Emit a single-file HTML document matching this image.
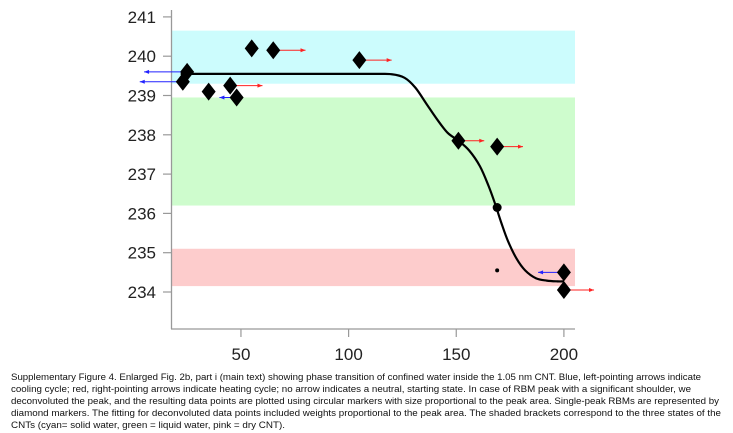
<!DOCTYPE html>
<html><head><meta charset="utf-8"><style>
html,body{margin:0;padding:0;background:#fff;}
svg{display:block;font-family:"Liberation Sans",sans-serif;}
</style></head><body>
<svg id="chart" width="733" height="433" viewBox="0 0 733 433" xmlns="http://www.w3.org/2000/svg">
<g id="bands"></g>
<g id="axes"></g>
<g id="curve"></g>
<g id="arrows"></g>
<g id="marks"></g>
<g font-family="'Liberation Sans Narrow','Liberation Sans',sans-serif" font-size="9" fill="#111">
<text x="11" y="380" textLength="690" lengthAdjust="spacingAndGlyphs">Supplementary Figure 4.  Enlarged Fig. 2b, part i (main text) showing phase transition of confined water inside the 1.05 nm CNT.  Blue, left-pointing arrows indicate</text>
<text x="11" y="392" textLength="680" lengthAdjust="spacingAndGlyphs">cooling cycle; red, right-pointing arrows indicate heating cycle; no arrow indicates a neutral, starting state.  In case of RBM peak with a significant shoulder, we</text>
<text x="11" y="404" textLength="708" lengthAdjust="spacingAndGlyphs">deconvoluted the peak, and the resulting data points are plotted using circular markers with size proportional to the peak area.  Single-peak RBMs are represented by</text>
<text x="11" y="416" textLength="710" lengthAdjust="spacingAndGlyphs">diamond markers.  The fitting for deconvoluted data points included weights proportional to the peak area.  The shaded brackets correspond to the three states of the</text>
<text x="11" y="428" textLength="274" lengthAdjust="spacingAndGlyphs">CNTs (cyan= solid water, green = liquid water, pink = dry CNT).</text>
</g>
</svg>
<script>
const xTicks=[50,100,150,200];
const yTicks=[234,235,236,237,238,239,240,241];
const bandLow=[240.65,238.95,235.1];
const bandHigh=[239.3,236.2,234.15];
const bandColors=['#ccfcfd','#cefccd','#fdcccc'];
const bandNames=['solid-water-band','liquid-water-band','dry-cnt-band'];
const diaX=[23,25,35,45,48,55,65,105,151,169,200,200];
const diaY=[239.35,239.6,239.1,239.25,238.95,240.2,240.15,239.9,237.85,237.7,234.5,234.05];
const arrowLen=[-20,-20,0,15,-8,0,15,15,12,12,-12,14];
const circX=[169,169];
const circY=[236.15,234.55];
const circR=[4.5,2];
const fitX=[22,60,110,120,126,131,136,141,146,151,156,161,165,168,171,174,178,182,187,192,197,200];
const fitY=[239.55,239.55,239.55,239.54,239.45,239.2,238.8,238.4,238.05,237.85,237.6,237.2,236.7,236.25,235.75,235.3,234.85,234.55,234.35,234.29,234.27,234.27];
const sx=v=>133.3+(v)*2.153;
const sy=v=>292-(v-234)*39.3;
const NS='http://www.w3.org/2000/svg';
function mk(parent,tag,attrs){const e=document.createElementNS(NS,tag);for(const k in attrs)e.setAttribute(k,attrs[k]);document.getElementById(parent).appendChild(e);return e;}
bandLow.forEach((lo,i)=>{
 const r=mk('bands','rect',{x:172,y:sy(lo),width:403,height:sy(bandHigh[i])-sy(lo),fill:bandColors[i]});
 
 
});
let a=mk('axes','line',{x1:171.5,y1:10,x2:171.5,y2:329,stroke:'#999','stroke-width':1.3});


a=mk('axes','line',{x1:171,y1:329,x2:575,y2:329,stroke:'#999','stroke-width':1.3});


yTicks.forEach(v=>{
 mk('axes','line',{x1:163,y1:sy(v),x2:171,y2:sy(v),stroke:'#999','stroke-width':1.2});
 const t=mk('axes','text',{x:156,y:sy(v)+6,'text-anchor':'end','font-size':17,fill:'#222'});
 t.textContent=v;
 
 
});
xTicks.forEach(v=>{
 mk('axes','line',{x1:sx(v),y1:329,x2:sx(v),y2:337,stroke:'#999','stroke-width':1.2});
 const t=mk('axes','text',{x:sx(v),y:360,'text-anchor':'middle','font-size':17,fill:'#222'});
 t.textContent=v;
 
 
});
// curve (catmull-rom)
const P=fitX.map((x,i)=>[sx(x),sy(fitY[i])]);
let d='M'+P[0][0]+','+P[0][1];
for(let i=0;i<P.length-1;i++){const p0=P[Math.max(0,i-1)],p1=P[i],p2=P[i+1],p3=P[Math.min(P.length-1,i+2)];
 d+=' C'+(p1[0]+(p2[0]-p0[0])/6)+','+(p1[1]+(p2[1]-p0[1])/6)+' '+(p2[0]-(p3[0]-p1[0])/6)+','+(p2[1]-(p3[1]-p1[1])/6)+' '+p2[0]+','+p2[1];}
const c=mk('curve','path',{d:d,fill:'none',stroke:'#000','stroke-width':2.2});


diaX.forEach((x,i)=>{
 const L=arrowLen[i];
 if(L!==0){
  const x0=sx(x),y0=sy(diaY[i]),x1=sx(x+L),col=L>0?'#f22':'#22f';
  const g=mk('arrows','g',{});
  
  
  const ln=document.createElementNS(NS,'line');ln.setAttribute('x1',x0);ln.setAttribute('y1',y0);ln.setAttribute('x2',x1);ln.setAttribute('y2',y0);ln.setAttribute('stroke',col);ln.setAttribute('stroke-width',1);g.appendChild(ln);
  const s=L>0?1:-1;const hd=document.createElementNS(NS,'path');hd.setAttribute('d','M'+x1+','+y0+' l'+(-5*s)+',-2 l0,4 z');hd.setAttribute('fill',col);g.appendChild(hd);
 }
});
diaX.forEach((x,i)=>{
 const cx=sx(x),cy=sy(diaY[i]);
 const p=mk('marks','path',{d:'M'+cx+','+(cy-9)+' L'+(cx+7)+','+cy+' L'+cx+','+(cy+9)+' L'+(cx-7)+','+cy+' Z',fill:'#000'});
 
 
});
circX.forEach((x,i)=>{
 const p=mk('marks','circle',{cx:sx(x),cy:sy(circY[i]),r:circR[i],fill:'#000'});
 
 
});
</script>
</body></html>
